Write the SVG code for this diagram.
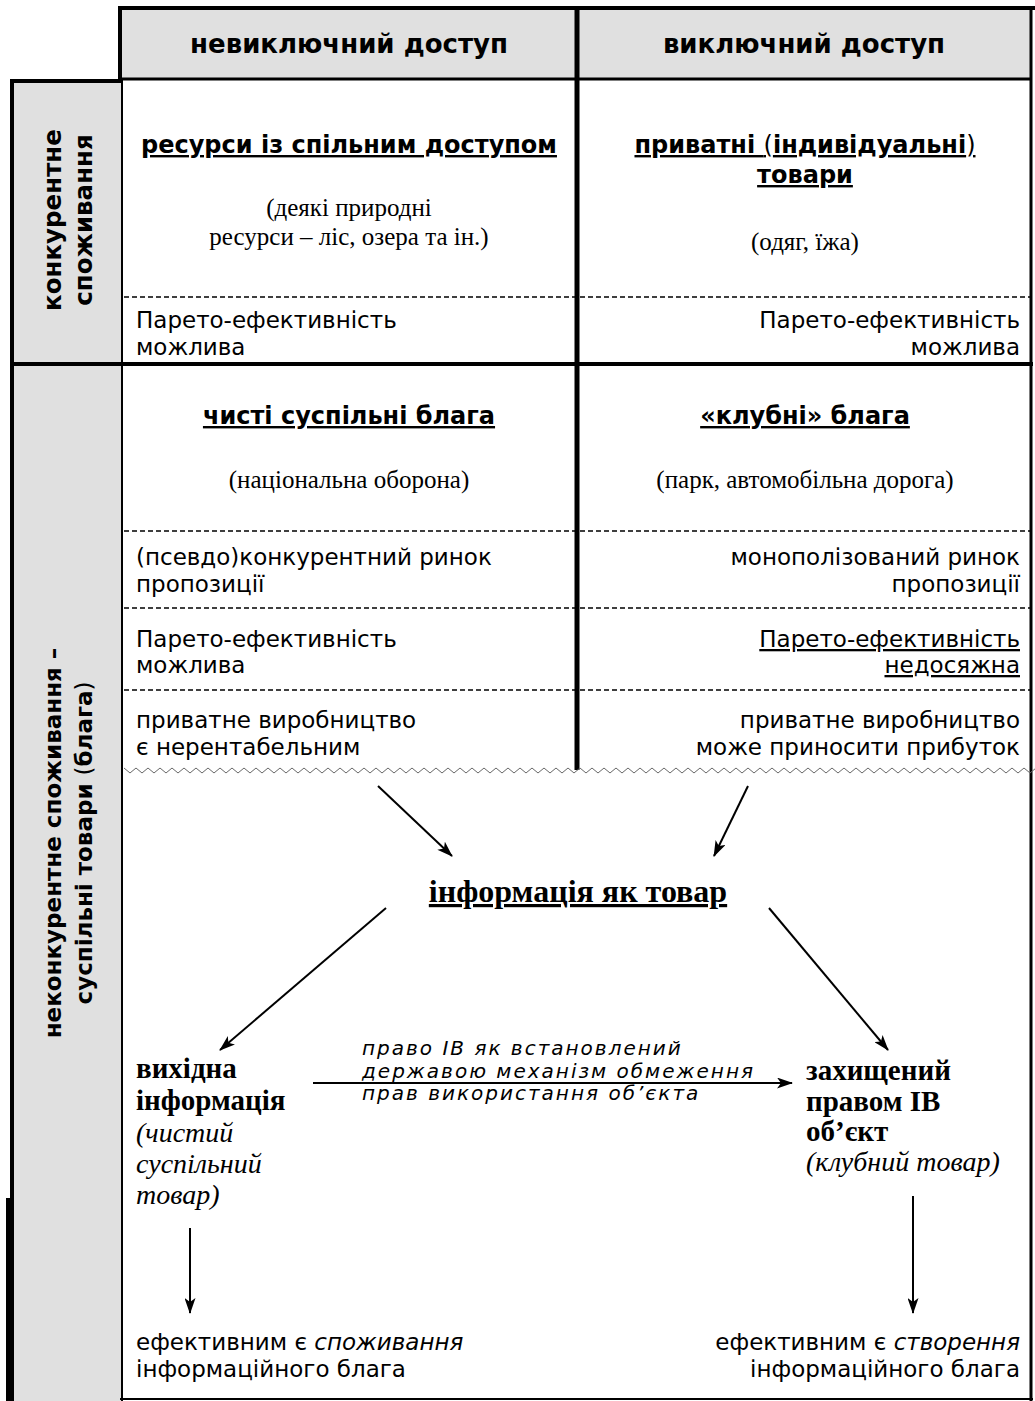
<svg xmlns="http://www.w3.org/2000/svg" width="1035" height="1401" viewBox="0 0 1035 1401">
<style>
.hdr{font-family:"DejaVu Sans",Verdana,sans-serif;font-weight:bold;font-size:26px;text-anchor:middle}
.lab{font-family:"DejaVu Sans",Verdana,sans-serif;font-weight:bold;font-size:23px;text-anchor:middle}
.lab1{font-size:24.5px}
.ttl{font-family:"DejaVu Sans",Verdana,sans-serif;font-weight:bold;font-size:24px;text-anchor:middle;text-decoration:underline}
.ex{font-family:"Liberation Serif","Times New Roman",serif;font-size:25px;text-anchor:middle}
.txt{font-family:"DejaVu Sans",Verdana,sans-serif;font-size:23px}
.r{text-anchor:end}
.u{text-decoration:underline}
.nb{font-weight:normal}
.bs{font-family:"Liberation Serif","Times New Roman",serif;font-weight:bold;font-size:29px}
.big{font-size:32px;text-anchor:middle;text-decoration:underline;text-decoration-thickness:3px}
.is{font-family:"Liberation Serif","Times New Roman",serif;font-style:italic;font-size:28px}
.it{font-family:"DejaVu Sans",Verdana,sans-serif;font-style:italic;font-size:20px;letter-spacing:2px}
.thick{stroke:#000;fill:none}
.dash{stroke:#000;stroke-width:1.5;stroke-dasharray:5 3;fill:none}
.arr{stroke:#000;stroke-width:2;fill:none;marker-end:url(#ah)}
</style>
<defs>
<marker id="ah" markerUnits="userSpaceOnUse" markerWidth="16" markerHeight="11" refX="15" refY="5.5" orient="auto">
<path d="M0,0 L16,5.5 L0,11 L4,5.5 Z" fill="#000"/>
</marker>
<pattern id="zig" patternUnits="userSpaceOnUse" x="124" y="766" width="12" height="9">
<path d="M0,2 L6,7 L12,2" stroke="#666" stroke-width="1" fill="none"/>
</pattern>
</defs>
<rect width="1035" height="1401" fill="#fff"/>

<g id="frame">
<rect x="120" y="10" width="911" height="69" fill="#e0e0e0"/>
<rect x="12" y="81" width="110" height="1320" fill="#e0e0e0"/>
<line class="thick" x1="118" y1="8" x2="1035" y2="8" stroke-width="4"/>
<line class="thick" x1="120" y1="6" x2="120" y2="83" stroke-width="4"/>
<line class="thick" x1="120" y1="79" x2="1032" y2="79" stroke-width="3"/>
<line class="thick" x1="10" y1="81" x2="122" y2="81" stroke-width="4"/>
<line class="thick" x1="12" y1="79" x2="12" y2="1401" stroke-width="4"/>
<rect x="6" y="1198" width="8" height="203" fill="#000"/>
<line class="thick" x1="122" y1="80" x2="122" y2="1401" stroke-width="2"/>
<line class="thick" x1="10" y1="364" x2="1033" y2="364" stroke-width="4"/>
<line class="thick" x1="577" y1="6" x2="577" y2="770" stroke-width="5"/>
<line class="thick" x1="1031" y1="6" x2="1031" y2="1401" stroke-width="3"/>
<line class="thick" x1="120" y1="1399" x2="1033" y2="1399" stroke-width="2"/>
<line class="dash" x1="124" y1="297" x2="1030" y2="297"/>
<line class="dash" x1="124" y1="531" x2="1030" y2="531"/>
<line class="dash" x1="124" y1="608" x2="1030" y2="608"/>
<line class="dash" x1="124" y1="690" x2="1030" y2="690"/>
<rect x="124" y="766" width="911" height="9" fill="url(#zig)"/>
</g>

<g id="header-nonexclusive"><text class="hdr" x="349" y="53">невиключний доступ</text></g>
<g id="header-exclusive"><text class="hdr" x="804" y="53">виключний доступ</text></g>

<g id="label-rival">
<text class="lab lab1" transform="translate(61,220) rotate(-90)"><tspan x="0" y="0">конкурентне</tspan><tspan x="0" y="31">споживання</tspan></text>
</g>
<g id="label-nonrival">
<text class="lab" transform="translate(61,843) rotate(-90)"><tspan x="0" y="0">неконкурентне споживання –</tspan><tspan x="0" y="31">суспільні товари <tspan class="nb">(</tspan>блага<tspan class="nb">)</tspan></tspan></text>
</g>

<g id="cell-common-resources">
<text class="ttl" x="349" y="153">ресурси із спільним доступом</text>
<text class="ex" x="349" y="216">(деякі природні</text>
<text class="ex" x="349" y="245">ресурси – ліс, озера та ін.)</text>
<text class="txt" x="136" y="328">Парето-ефективність</text>
<text class="txt" x="136" y="355">можлива</text>
</g>

<g id="cell-private-goods">
<text class="ttl" x="805" y="153">приватні <tspan class="nb">(</tspan>індивідуальні<tspan class="nb">)</tspan></text>
<text class="ttl" x="805" y="183">товари</text>
<text class="ex" x="805" y="250">(одяг, їжа)</text>
<text class="txt r" x="1020" y="328">Парето-ефективність</text>
<text class="txt r" x="1020" y="355">можлива</text>
</g>

<g id="cell-pure-public">
<text class="ttl" x="349" y="424">чисті суспільні блага</text>
<text class="ex" x="349" y="488">(національна оборона)</text>
<text class="txt" x="136" y="565">(псевдо)конкурентний ринок</text>
<text class="txt" x="136" y="592">пропозиції</text>
<text class="txt" x="136" y="647">Парето-ефективність</text>
<text class="txt" x="136" y="673">можлива</text>
<text class="txt" x="136" y="728">приватне виробництво</text>
<text class="txt" x="136" y="755">є нерентабельним</text>
</g>

<g id="cell-club">
<text class="ttl" x="805" y="424">«клубні» блага</text>
<text class="ex" x="805" y="488">(парк, автомобільна дорога)</text>
<text class="txt r" x="1020" y="565">монополізований ринок</text>
<text class="txt r" x="1020" y="592">пропозиції</text>
<text class="txt r u" x="1020" y="647">Парето-ефективність</text>
<text class="txt r u" x="1020" y="673">недосяжна</text>
<text class="txt r" x="1020" y="728">приватне виробництво</text>
<text class="txt r" x="1020" y="755">може приносити прибуток</text>
</g>

<g id="node-info-good">
<text class="bs big" x="578" y="902">інформація як товар</text>
</g>

<g id="node-source-info">
<text class="bs" x="136" y="1078">вихідна</text>
<text class="bs" x="136" y="1110">інформація</text>
<text class="is" x="136" y="1142">(чистий</text>
<text class="is" x="136" y="1173">суспільний</text>
<text class="is" x="136" y="1204">товар)</text>
</g>

<g id="node-protected">
<text class="bs" x="806" y="1080">захищений</text>
<text class="bs" x="806" y="1111">правом ІВ</text>
<text class="bs" x="806" y="1141">об’єкт</text>
<text class="is" x="806" y="1171">(клубний товар)</text>
</g>

<g id="node-consumption">
<text class="txt" x="136" y="1350">ефективним є <tspan font-style="italic">споживання</tspan></text>
<text class="txt" x="136" y="1377">інформаційного блага</text>
</g>

<g id="node-creation">
<text class="txt r" x="1020" y="1350">ефективним є <tspan font-style="italic">створення</tspan></text>
<text class="txt r" x="1020" y="1377">інформаційного блага</text>
</g>

<g id="connectors">
<line class="arr" x1="378" y1="786" x2="452" y2="856"/>
<line class="arr" x1="748" y1="786" x2="714" y2="856"/>
<line class="arr" x1="386" y1="908" x2="220" y2="1050"/>
<line class="arr" x1="769" y1="908" x2="888" y2="1050"/>
<line class="arr" x1="313" y1="1083" x2="792" y2="1083"/>
<line class="arr" x1="190" y1="1228" x2="190" y2="1313"/>
<line class="arr" x1="913" y1="1196" x2="913" y2="1313"/>
<text class="it" x="362" y="1055">право ІВ як встановлений</text>
<text class="it" x="362" y="1078">державою механізм обмеження</text>
<text class="it" x="362" y="1100">прав використання об’єкта</text>
</g>
</svg>
